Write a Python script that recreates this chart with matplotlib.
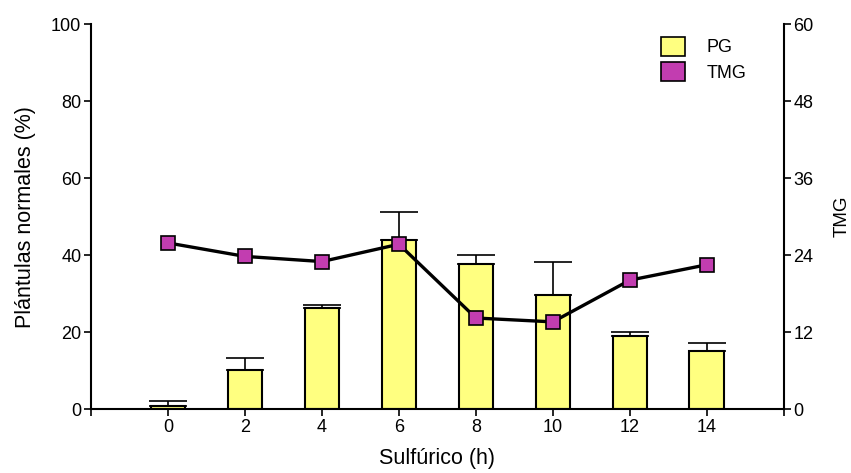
import matplotlib
matplotlib.use('Agg')
import matplotlib.pyplot as plt
from matplotlib.patches import Patch

# data
hours = [0, 2, 4, 6, 8, 10, 12, 14]
pg = [0.7, 10.1, 26.2, 43.9, 37.7, 29.7, 19.1, 15.0]
pg_err = [1.5, 3.2, 0.9, 7.2, 2.3, 8.5, 0.9, 2.3]
tmg = [25.9, 23.8, 23.0, 25.7, 14.2, 13.6, 20.1, 22.5]

left_ticks = [0, 20, 40, 60, 80, 100]
right_ticks = [0, 12, 24, 36, 48, 60]

BAR_COLOR = '#FFFF80'
MARK_COLOR = '#C23DB0'


def main():
    plt.rcParams['font.family'] = ['Liberation Sans', 'DejaVu Sans']
    plt.rcParams['font.size'] = 13

    fig = plt.figure(figsize=(8.51, 4.73), dpi=100)
    ax = fig.add_axes([0.107, 0.135, 0.814, 0.814])

    ax.bar(hours, pg, width=0.9, color=BAR_COLOR, edgecolor='black',
           linewidth=1.5, zorder=2)
    ax.errorbar(hours, pg, yerr=[[0] * len(pg_err), pg_err], fmt='none',
                ecolor='black', elinewidth=1.2, capsize=13.5, capthick=1.2,
                zorder=1)

    ax.set_xlim(-2, 16)
    ax.set_ylim(0, 100)
    ax.set_xticks(hours)
    ax.set_xticks([-2, 16], minor=True)
    ax.set_yticks(left_ticks)
    ax.spines['top'].set_visible(False)
    ax.spines['right'].set_visible(False)
    for s in ('left', 'bottom'):
        ax.spines[s].set_linewidth(1.5)
    ax.tick_params(axis='both', which='both', direction='out', length=5,
                   width=1.2, labelsize=13, pad=2)
    ax.set_xlabel('Sulfúrico (h)', fontsize=15.5, labelpad=9)
    ax.set_ylabel('Plántulas normales (%)', fontsize=15.5, labelpad=11)

    ax2 = ax.twinx()
    ax2.plot(hours, tmg, color='black', linewidth=2.4, marker='s',
             markersize=10, markerfacecolor=MARK_COLOR,
             markeredgecolor='black', markeredgewidth=1.2, zorder=3)
    ax2.set_ylim(0, 60)
    ax2.set_yticks(right_ticks)
    ax2.spines['top'].set_visible(False)
    ax2.spines['left'].set_visible(False)
    ax2.spines['bottom'].set_visible(False)
    ax2.spines['right'].set_linewidth(1.5)
    ax2.tick_params(axis='y', direction='out', length=5, width=1.2,
                    labelsize=13, pad=2)
    ax2.set_ylabel('TMG', fontsize=13.5, labelpad=14)

    handles = [
        Patch(facecolor=BAR_COLOR, edgecolor='black', linewidth=1.2),
        Patch(facecolor=MARK_COLOR, edgecolor='black', linewidth=1.2),
    ]
    ax2.legend(handles, ['PG', 'TMG'], loc='upper left',
               bbox_to_anchor=(0.8, 1.01), frameon=False, fontsize=13,
               handlelength=1.28, handleheight=1.28, handletextpad=1.2,
               labelspacing=0.3)

    fig.savefig('out.png', dpi=100)


if __name__ == "__main__":
    main()
